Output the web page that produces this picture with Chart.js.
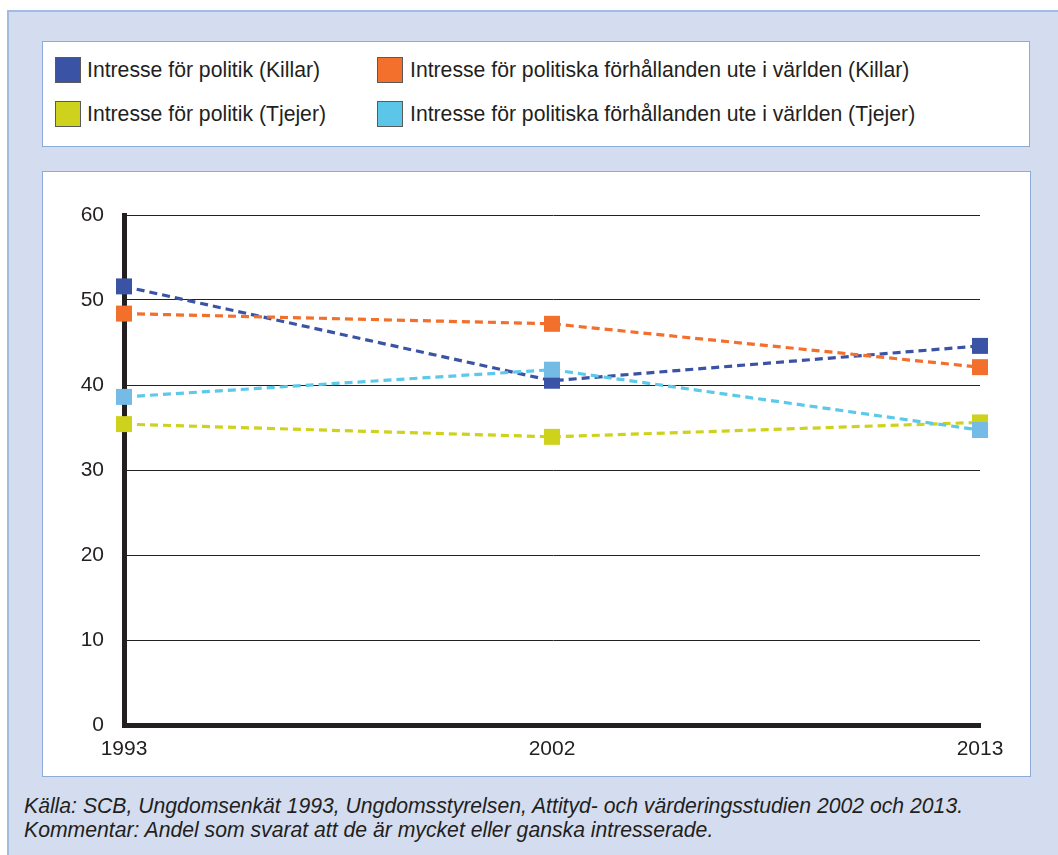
<!DOCTYPE html>
<html>
<head>
<meta charset="utf-8">
<script src="https://cdn.jsdelivr.net/npm/chart.js@4/dist/chart.umd.min.js"></script>
<style>
  html, body { margin: 0; padding: 0; background: #ffffff; }
  body { width: 1058px; height: 855px; position: relative; overflow: hidden;
         font-family: "Liberation Sans", Arial, Helvetica, sans-serif; color: #231f20; }
  #panel { position: absolute; left: 7px; top: 10px; width: 1051px; height: 845px;
           background: #d4ddef; border-left: 2px solid #a2bbe0; border-top: 2px solid #a2bbe0; box-sizing: border-box; }
  #legend { position: absolute; left: 42px; top: 41px; width: 988px; height: 106px;
            background: #fff; border: 1px solid #8eaad8; box-sizing: border-box; }
  #chartbox { position: absolute; left: 42px; top: 171px; width: 989px; height: 606px;
              background: #fff; border: 1px solid #8eaad8; box-sizing: border-box; }
  #chartbox canvas { position: absolute; left: 0; top: 0; }
  .sw { position: absolute; width: 26px; height: 26px; box-sizing: border-box; border: 1px solid #5a5a5a; }
  .lt { position: absolute; font-size: 21.2px; line-height: 26px; white-space: nowrap; }
  #footer { position: absolute; left: 24px; top: 794px; font-size: 21.2px; font-style: italic; line-height: 24px; white-space: nowrap; }
</style>
</head>
<body>
<div id="panel"></div>
<div id="legend"></div>
<div id="chartbox"><canvas id="c" width="987" height="604"></canvas></div>
<div id="footer">
  <div id="f1"></div>
  <div id="f2"></div>
</div>
<script>
// ---- data ----
const years = ['1993', '2002', '2013'];
const seriesNames = [
  'Intresse för politik (Killar)',
  'Intresse för politiska förhållanden ute i världen (Killar)',
  'Intresse för politik (Tjejer)',
  'Intresse för politiska förhållanden ute i världen (Tjejer)'
];
const killarPolitik = [51.6, 40.5, 44.6];
const killarVarlden = [48.4, 47.2, 42.1];
const tjejerPolitik = [35.4, 33.9, 35.6];
const tjejerVarlden = [38.6, 41.8, 34.7];
const yTicks = [0, 10, 20, 30, 40, 50, 60];
const sourceText = 'Källa: SCB, Ungdomsenkät 1993, Ungdomsstyrelsen, Attityd- och värderingsstudien 2002 och 2013.';
const commentText = 'Kommentar: Andel som svarat att de är mycket eller ganska intresserade.';

// ---- styles ----
const lineColors = ['#3a53a4', '#f26f2c', '#cfd21c', '#5cc8ea'];
const pointColors = ['#3a53a4', '#f26f2c', '#cfd21c', '#74bbe6'];
const swatchColors = ['#3a53a4', '#f26f2c', '#cfd21c', '#5cc6e8'];
const drawOrder = [4, 3, 2, 1];
const values = [killarPolitik, killarVarlden, tjejerPolitik, tjejerVarlden];

// legend (2x2)
const legend = document.getElementById('legend');
const colX = [[12, 44], [334, 367]];
const rowY = [15, 59];
seriesNames.forEach((name, i) => {
  const col = i % 2, row = Math.floor(i / 2);
  const sw = document.createElement('div');
  sw.className = 'sw';
  sw.style.left = colX[col][0] + 'px';
  sw.style.top = rowY[row] + 'px';
  sw.style.background = swatchColors[i];
  legend.appendChild(sw);
  const t = document.createElement('div');
  t.className = 'lt';
  t.style.left = colX[col][1] + 'px';
  t.style.top = rowY[row] + 'px';
  t.textContent = name;
  legend.appendChild(t);
});
document.getElementById('f1').textContent = sourceText;
document.getElementById('f2').textContent = commentText;

const FONT = '"Liberation Sans", Arial, Helvetica, sans-serif';

new Chart(document.getElementById('c'), {
  type: 'line',
  data: {
    labels: years,
    datasets: seriesNames.map((name, i) => ({
      label: name,
      data: values[i],
      borderColor: lineColors[i],
      backgroundColor: pointColors[i],
      pointBackgroundColor: pointColors[i],
      pointBorderWidth: 0,
      pointBorderColor: pointColors[i],
      pointStyle: 'rect',
      pointRadius: 11.3,
      pointHoverRadius: 11.3,
      borderWidth: 3.2,
      borderDash: [8, 5],
      tension: 0,
      fill: false,
      clip: false,
      order: drawOrder[i]
    }))
  },
  options: {
    responsive: false,
    animation: false,
    devicePixelRatio: 1,
    layout: { padding: { top: 43, right: 50, left: 0, bottom: 0 } },
    plugins: { legend: { display: false }, tooltip: { enabled: false } },
    scales: {
      x: {
        type: 'category',
        offset: false,
        grid: { display: false, drawTicks: false },
        border: { display: true, color: '#231f20', width: 5 },
        ticks: { color: '#231f20', font: { family: FONT, size: 21 }, padding: 12, maxRotation: 0, autoSkip: false },
        afterFit: s => { s.height = 51; }
      },
      y: {
        min: 0, max: 60,
        afterBuildTicks: s => { s.ticks = yTicks.map(v => ({ value: v })); },
        grid: { color: '#222', lineWidth: 1, drawTicks: false },
        border: { display: true, color: '#231f20', width: 5 },
        ticks: { color: '#231f20', font: { family: FONT, size: 21 }, padding: 20 },
        afterFit: s => { s.width = 81; }
      }
    }
  }
});
</script>
</body>
</html>
